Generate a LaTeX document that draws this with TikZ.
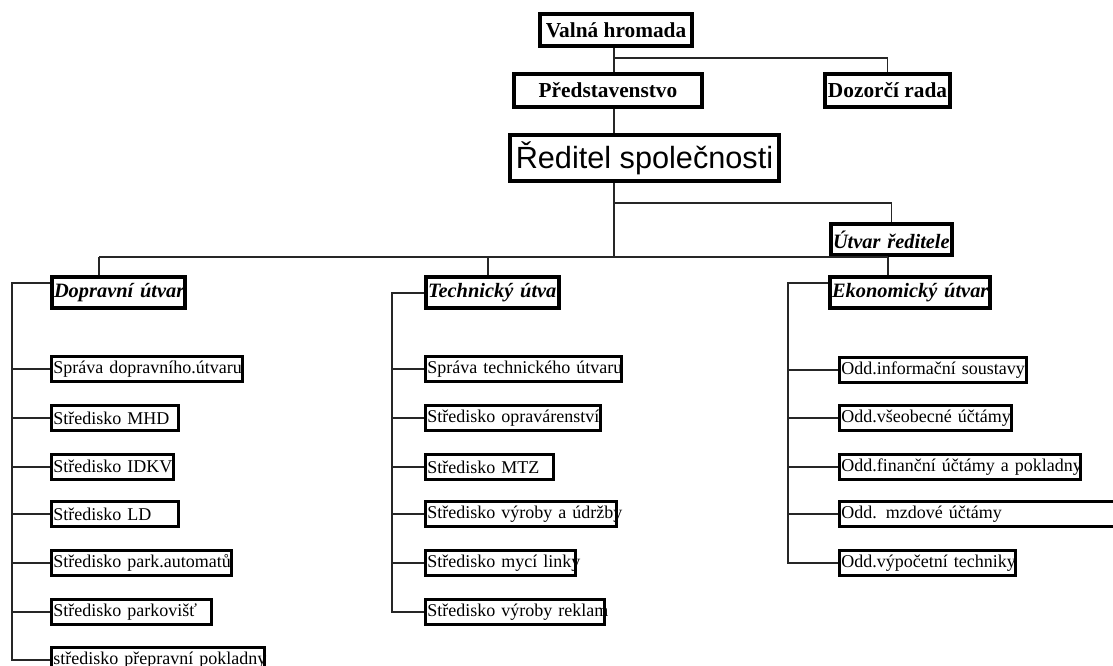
\documentclass[tikz,border=0pt]{standalone}
\usepackage{fontspec}
\setmainfont{Liberation Serif}
\newfontfamily\sansf{Liberation Sans}
\begin{document}
\begin{tikzpicture}[x=0.75pt,y=-0.75pt,
  conn/.style={draw=black!85, line width=1pt},
  hbox/.style={draw, fill=white, line width=3pt, anchor=north west, inner sep=0pt,
    font=\fontsize{16}{18}\selectfont\bfseries},
  hibox/.style={draw, fill=white, line width=3pt, anchor=north west, inner xsep=1.5pt, inner ysep=0pt,
    minimum height=23.25pt, align=left, text width=#1,
    font=\fontsize{15.3}{18}\selectfont\bfseries\itshape},
  cbox/.style={draw, fill=white, line width=2pt, anchor=north west, inner xsep=1.5pt, inner ysep=0pt,
    minimum height=18.75pt, align=left, text width=#1,
    font=\fontsize{13.5}{15}\selectfont}
]
\useasboundingbox[fill=white] (0,0) rectangle (1113,666);

% top levels
\node[hbox, minimum width=114pt, minimum height=24pt] (v) at (538,12) {Valná hromada};
\node[hbox, minimum width=141pt, minimum height=24.75pt] (p) at (512,72) {Představenstvo};
\node[hbox, minimum width=93.75pt, minimum height=24.75pt] (dz) at (823,72) {Dozorčí rada};
\node[draw, fill=white, line width=3pt, anchor=north west, inner sep=0pt,
  minimum width=201.75pt, minimum height=34.5pt, font=\sansf\fontsize{23}{26}\selectfont]
  (r) at (508,133) {Ředitel společnosti};
\node[hibox=87.75pt] (u) at (829,222) {\mbox{Útvar ředitele}};

% departments
\node[hibox=96.75pt] (dop) at (50,275) {\mbox{Dopravní útvar}};
\node[hibox=96.75pt] (tech) at (424,275) {\mbox{Technický útva}};
\node[hibox=117pt] (ek) at (828,275) {\mbox{Ekonomický útvar}};

% Dopravni children
\node[cbox=140.25pt] (d1) at (50,355) {\mbox{Správa dopravního.útvaru}};
\node[cbox=92.25pt]  (d2) at (50,404) {\mbox{Středisko MHD}};
\node[cbox=88.5pt]   (d3) at (50,453) {\mbox{Středisko IDKV}};
\node[cbox=92.25pt]  (d4) at (50,500) {\mbox{Středisko LD}};
\node[cbox=132pt]    (d5) at (50,549) {\mbox{Středisko park.automatů}};
\node[cbox=117pt]    (d6) at (50,598) {\mbox{Středisko parkovišť}};
\node[cbox=156.75pt] (d7) at (50,646) {\mbox{středisko přepravní pokladny}};

% Technicky children
\node[cbox=144pt]    (t1) at (424,355) {\mbox{Správa technického útvaru}};
\node[cbox=128.25pt] (t2) at (424,404) {\mbox{Středisko opravárenství}};
\node[cbox=93pt]     (t3) at (424,453) {\mbox{Středisko MTZ}};
\node[cbox=140.25pt] (t4) at (424,500) {\mbox{Středisko výroby a údržby}};
\node[cbox=109.5pt]  (t5) at (424,549) {\mbox{Středisko mycí linky}};
\node[cbox=131.25pt] (t6) at (424,598) {\mbox{Středisko výroby reklam}};

% Ekonomicky children
\node[cbox=137.25pt] (e1) at (838,356) {\mbox{Odd.informační soustavy}};
\node[cbox=126pt]    (e2) at (838,404) {\mbox{Odd.všeobecné účtámy}};
\node[cbox=177.75pt] (e3) at (838,453) {\mbox{Odd.finanční účtámy a pokladny}};
\node[cbox=222pt]    (e4) at (838,500) {\mbox{Odd. mzdové účtámy}};
\node[cbox=129pt]    (e5) at (838,549) {\mbox{Odd.výpočetní techniky}};

% connectors (top)
\coordinate (cx) at (614,0);
\coordinate (j1) at (614,58);
\coordinate (j2) at (614,203);
\coordinate (j3) at (614,258);
\draw[conn] (cx |- v.south) -- (cx |- p.north);
\draw[conn] (j1) -| (dz.north);
\draw[conn] (cx |- p.south) -- (cx |- r.north);
\draw[conn] (cx |- r.south) -- (j3);
\draw[conn] (j2) -| (u.north);

% bus to departments
\coordinate (bl) at (99,257);
\coordinate (bm) at (488,257);
\coordinate (br) at (888,257);
\draw[conn] (bl) -- (br);
\draw[conn] (bl) -- (bl |- dop.north);
\draw[conn] (bm) -- (bm |- tech.north);
\draw[conn] (br) -- (br |- ek.north);

% Dopravni bracket
\coordinate (dj) at (12,283);
\draw[conn] (dj -| dop.west) -- (dj) |- (d7.west);
\foreach \n in {d1,d2,d3,d4,d5,d6} \draw[conn] (dj |- \n.west) -- (\n.west);

% Technicky bracket
\coordinate (tj) at (392,293);
\draw[conn] (tj -| tech.west) -- (tj) |- (t6.west);
\foreach \n in {t1,t2,t3,t4,t5} \draw[conn] (tj |- \n.west) -- (\n.west);

% Ekonomicky bracket
\coordinate (ej) at (788,283);
\draw[conn] (ej -| ek.west) -- (ej) |- (e5.west);
\foreach \n in {e1,e2,e3,e4} \draw[conn] (ej |- \n.west) -- (\n.west);
\end{tikzpicture}
\end{document}
